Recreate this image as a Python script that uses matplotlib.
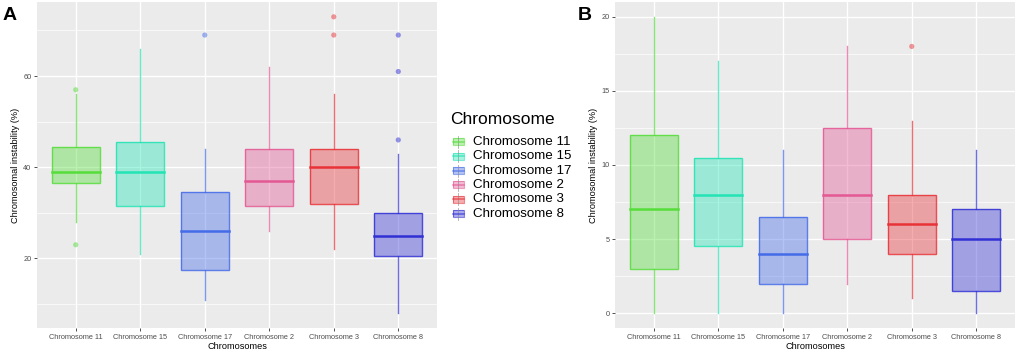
import matplotlib
matplotlib.use("Agg")
import matplotlib.pyplot as plt
from matplotlib.patches import Rectangle
from matplotlib.lines import Line2D
from matplotlib.ticker import MultipleLocator

plt.rcParams['font.family'] = ['Liberation Sans', 'DejaVu Sans']

# categories and colours
chromosomes = ['Chromosome 11', 'Chromosome 15', 'Chromosome 17',
               'Chromosome 2', 'Chromosome 3', 'Chromosome 8']
colors = ['#55dd3a', '#22e4b4', '#446be8', '#e45894', '#e83238', '#3030d5']

# panel A box statistics
a_whislo = [28, 21, 11, 26, 22, 8]
a_q1 = [36.5, 31.5, 17.5, 31.5, 32, 20.5]
a_med = [39, 39, 26, 37, 40, 25]
a_q3 = [44.5, 45.5, 34.5, 44, 44, 30]
a_whishi = [56, 66, 44, 62, 56, 43]
a_fliers = [[57, 23], [], [69], [], [73, 69], [69, 61, 46]]

# panel B box statistics
b_whislo = [0, 0, 0, 2, 1, 0]
b_q1 = [3, 4.5, 2, 5, 4, 1.5]
b_med = [7, 8, 4, 8, 6, 5]
b_q3 = [12, 10.5, 6.5, 12.5, 8, 7]
b_whishi = [20, 17, 11, 18, 13, 11]
b_fliers = [[], [], [], [], [18], []]

W, H = 1017, 352
fig = plt.figure(figsize=(W / 100, H / 100), dpi=100)


def px_axes(x0, y0, x1, y1):
    return fig.add_axes([x0 / W, 1 - y1 / H, (x1 - x0) / W, (y1 - y0) / H])


def draw_panel(ax, whislo, q1, med, q3, whishi, fliers, ylim, major, minor):
    ax.set_facecolor('#ebebeb')
    for s in ax.spines.values():
        s.set_visible(False)
    ax.set_xlim(0.4, len(chromosomes) + 0.6)
    ax.set_ylim(*ylim)
    ax.yaxis.set_major_locator(MultipleLocator(major))
    ax.yaxis.set_minor_locator(MultipleLocator(minor))
    ax.set_xticks(range(1, len(chromosomes) + 1))
    ax.set_xticklabels(chromosomes)
    ax.grid(True, which='major', color='white', lw=1.0)
    ax.grid(True, which='minor', axis='y', color='white', lw=0.5)
    ax.set_axisbelow(True)
    ax.tick_params(axis='both', which='major', length=2.5, width=0.6,
                   color='#333333', labelsize=5.3, labelcolor='#4d4d4d', pad=1.5)
    ax.tick_params(axis='y', which='minor', length=0)
    for i in range(len(chromosomes)):
        x = i + 1
        c = colors[i]
        hw = 0.375
        ax.plot([x, x], [whislo[i], q1[i]], color=c, lw=1.0, alpha=0.7, zorder=2)
        ax.plot([x, x], [q3[i], whishi[i]], color=c, lw=1.0, alpha=0.7, zorder=2)
        ax.add_patch(Rectangle((x - hw, q1[i]), 2 * hw, q3[i] - q1[i],
                               facecolor=c, alpha=0.4, edgecolor='none', zorder=3))
        ax.add_patch(Rectangle((x - hw, q1[i]), 2 * hw, q3[i] - q1[i],
                               facecolor='none', edgecolor=c, lw=1.0, alpha=0.85,
                               zorder=4))
        ax.plot([x - hw, x + hw], [med[i], med[i]], color=c, lw=1.8, zorder=5)
        if fliers[i]:
            ax.scatter([x] * len(fliers[i]), fliers[i], s=14, color=c,
                       alpha=0.5, edgecolors='none', zorder=5)
    ax.set_xlabel('Chromosomes', fontsize=6.6, labelpad=1)
    ax.set_ylabel('Chromosomal instability (%)', fontsize=6.6, labelpad=2)


ax_a = px_axes(37, 2, 437, 328)
draw_panel(ax_a, a_whislo, a_q1, a_med, a_q3, a_whishi, a_fliers,
           (4.75, 76.25), 20, 10)
ax_b = px_axes(615, 2, 1015, 328)
draw_panel(ax_b, b_whislo, b_q1, b_med, b_q3, b_whishi, b_fliers,
           (-1, 21), 5, 2.5)

fig.text(3 / W, 1 - 15 / H, 'A', fontsize=14, fontweight='bold', va='center')
fig.text(578 / W, 1 - 15 / H, 'B', fontsize=14, fontweight='bold', va='center')

# legend drawn in pixel coordinates
leg = fig.add_axes([0, 0, 1, 1], zorder=10)
leg.set_xlim(0, W)
leg.set_ylim(H, 0)
leg.axis('off')
leg.patch.set_alpha(0)
leg.text(450, 119, 'Chromosome', fontsize=12.5, va='center', ha='left')
for i, name in enumerate(chromosomes):
    yc = 141.7 + i * 14.4
    c = colors[i]
    leg.add_line(Line2D([458, 458], [yc - 6, yc + 6], color='#888888', lw=0.6,
                        alpha=0.7))
    leg.add_patch(Rectangle((452.5, yc - 3.5), 11, 7, facecolor=c, alpha=0.4,
                            edgecolor='none'))
    leg.add_patch(Rectangle((452.5, yc - 3.5), 11, 7, facecolor='none',
                            edgecolor=c, lw=0.8, alpha=0.6))
    leg.add_line(Line2D([452.5, 463.5], [yc, yc], color=c, lw=1.1, alpha=0.7))
    leg.text(473, yc, name, fontsize=9.6, va='center', ha='left')

fig.savefig('out.png', dpi=100)
